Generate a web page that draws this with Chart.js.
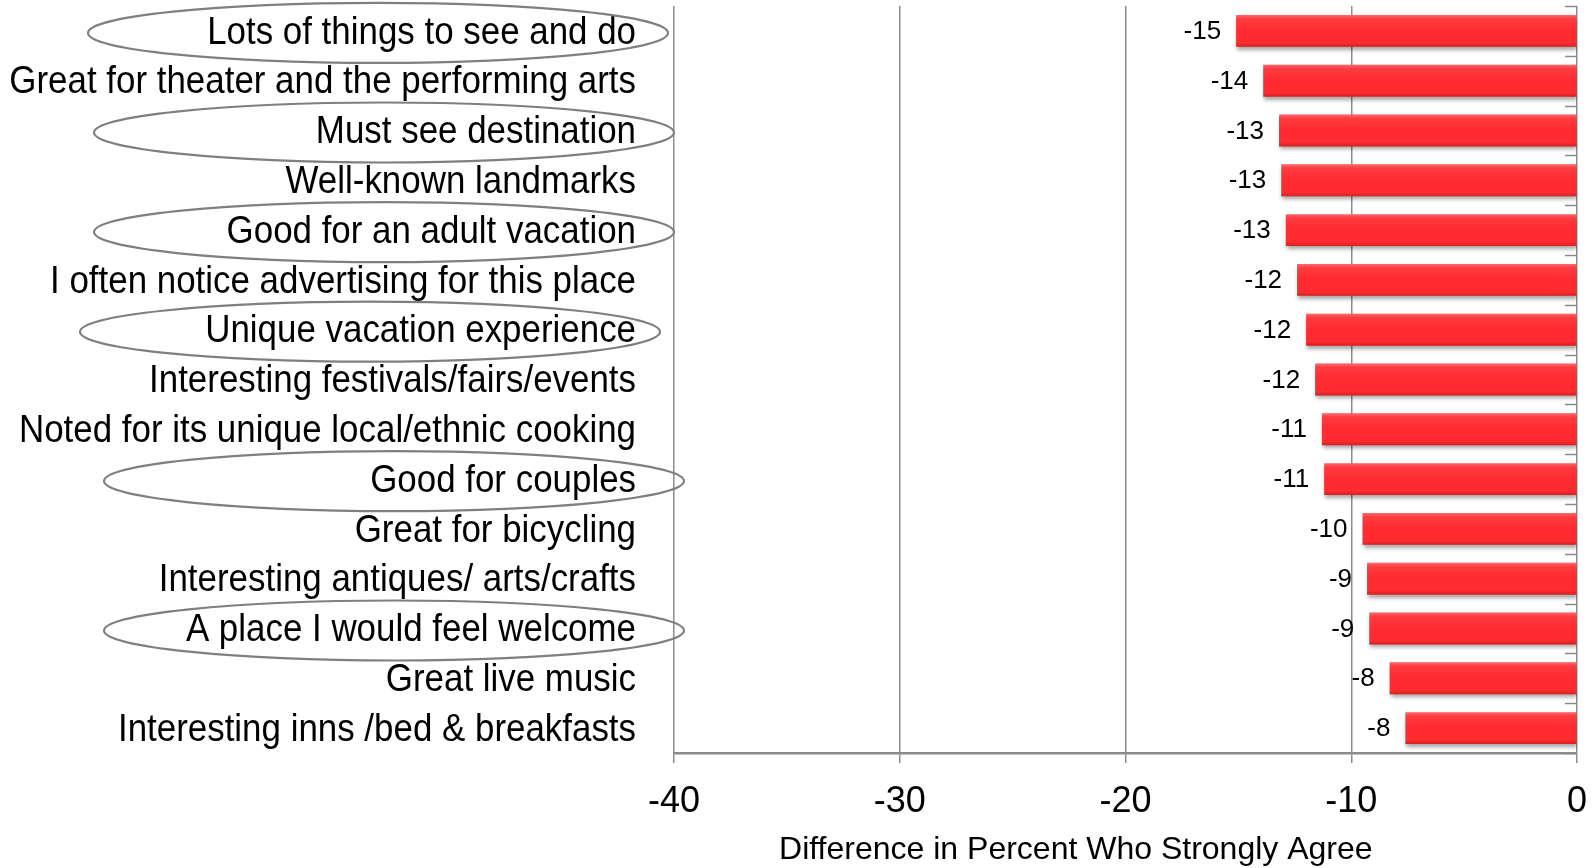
<!DOCTYPE html>
<html>
<head>
<meta charset="utf-8">
<script src="https://cdn.jsdelivr.net/npm/chart.js@4.4.1/dist/chart.umd.min.js"></script>
<style>
  html, body { margin: 0; padding: 0; background: #fff; }
  #wrap { width: 1595px; height: 868px; position: relative; }
</style>
</head>
<body>
<div id="wrap"><canvas id="gapChart"></canvas></div>
<script>
const categories = [
    'Lots of things to see and do',
    'Great for theater and the performing arts',
    'Must see destination',
    'Well-known landmarks',
    'Good for an adult vacation',
    'I often notice advertising for this place',
    'Unique vacation experience',
    'Interesting festivals/fairs/events',
    'Noted for its unique local/ethnic cooking',
    'Good for couples',
    'Great for bicycling',
    'Interesting antiques/ arts/crafts',
    'A place I would feel welcome',
    'Great live music',
    'Interesting inns /bed & breakfasts'
];

const differences = [-15.1, -13.9, -13.2, -13.1, -12.9, -12.4, -12.0, -11.6, -11.3, -11.2, -9.5, -9.3, -9.2, -8.3, -7.6];
const differenceLabels = ['-15', '-14', '-13', '-13', '-13', '-12', '-12', '-12', '-11', '-11', '-10', '-9', '-9', '-8', '-8'];

// rows that are circled in the original slide
const circledRows = [0, 2, 4, 6, 9, 12];

const axisTitle = 'Difference in Percent Who Strongly Agree';

const plainFont = "'Liberation Sans', Arial, sans-serif";

const slideExtras = {
    id: 'slideExtras',
    beforeDatasetsDraw(chart) {
        const ctx = chart.ctx;
        ctx.save();
        ctx.shadowColor = 'rgba(0, 0, 0, 0.35)';
        ctx.shadowBlur = 4;
        ctx.shadowOffsetX = 1;
        ctx.shadowOffsetY = 3;
    },
    afterDatasetsDraw(chart) {
        const ctx = chart.ctx;
        ctx.restore();

        const meta = chart.getDatasetMeta(0);
        meta.data.forEach((bar, i) => {
            const { x, y, base, height } = bar.getProps(['x', 'y', 'base', 'height'], true);
            const left = Math.min(x, base);
            const w = Math.abs(base - x);
            const top = y - height / 2;

            // light bevel on the bar
            const g = ctx.createLinearGradient(0, top, 0, top + height);
            g.addColorStop(0, 'rgba(255,255,255,0.30)');
            g.addColorStop(0.12, 'rgba(255,255,255,0.08)');
            g.addColorStop(0.5, 'rgba(255,255,255,0)');
            g.addColorStop(0.88, 'rgba(0,0,0,0)');
            g.addColorStop(1, 'rgba(110,0,0,0.25)');
            ctx.fillStyle = g;
            ctx.fillRect(left, top, w, height);

            // value label to the left of the bar
            ctx.font = '26px ' + plainFont;
            ctx.fillStyle = '#000';
            ctx.textAlign = 'right';
            ctx.textBaseline = 'middle';
            ctx.fillText(differenceLabels[i], x - 15, y + 1);
        });

        // little inward ticks on the vertical axis at zero
        const area = chart.chartArea;
        const step = (area.bottom - area.top) / categories.length;
        ctx.save();
        ctx.strokeStyle = '#8a8a8a';
        ctx.lineWidth = 1.5;
        for (let i = 0; i <= categories.length; i++) {
            const ty = Math.round(area.top + i * step) + 0.5;
            ctx.beginPath();
            ctx.moveTo(area.right - 12, ty);
            ctx.lineTo(area.right, ty);
            ctx.stroke();
        }
        ctx.restore();
    },
    afterDraw(chart) {
        const ctx = chart.ctx;
        const yScale = chart.scales.y;
        const xScale = chart.scales.x;
        const area = chart.chartArea;

        // category labels, in a narrow face like the slide's Arial Narrow
        ctx.save();
        ctx.font = '39px ' + plainFont;
        ctx.fillStyle = '#000';
        ctx.textAlign = 'right';
        ctx.textBaseline = 'middle';
        const labelRight = area.left - 38;
        categories.forEach((name, i) => {
            const ly = yScale.getPixelForValue(i) + 2;
            ctx.save();
            ctx.translate(labelRight, ly);
            ctx.scale(0.895, 1);
            ctx.fillText(name, 0, 0);
            ctx.restore();
        });
        ctx.restore();

        // axis title, sitting a little left of centre as on the slide
        ctx.save();
        ctx.font = '32px ' + plainFont;
        ctx.fillStyle = '#000';
        ctx.textAlign = 'center';
        ctx.textBaseline = 'middle';
        ctx.fillText(axisTitle, xScale.getPixelForValue(-22.2), 850);
        ctx.restore();

        const centres = { 0: 378, 2: 384, 4: 384, 6: 370, 9: 394, 12: 394 };
        ctx.save();
        ctx.strokeStyle = '#7f7f7f';
        ctx.lineWidth = 2.2;
        circledRows.forEach(row => {
            const cy = yScale.getPixelForValue(row) + 2;
            ctx.beginPath();
            ctx.ellipse(centres[row], cy, 290, 30, 0, 0, Math.PI * 2);
            ctx.stroke();
        });
        ctx.restore();
    }
};

new Chart(document.getElementById('gapChart'), {
    type: 'bar',
    data: {
        labels: categories,
        datasets: [{
            label: 'Difference',
            data: differences,
            backgroundColor: '#ff2b2f',
            borderWidth: 0,
            barPercentage: 0.64,
            categoryPercentage: 1
        }]
    },
    options: {
        indexAxis: 'y',
        responsive: true,
        maintainAspectRatio: false,
        animation: false,
        events: [],
        layout: {
            padding: { top: 6, right: 0, bottom: 0, left: 0 }
        },
        plugins: {
            legend: { display: false },
            tooltip: { enabled: false }
        },
        scales: {
            x: {
                min: -40,
                max: 0,
                ticks: {
                    stepSize: 10,
                    color: '#000',
                    padding: 17,
                    font: { family: plainFont, size: 36 }
                },
                grid: {
                    color: '#8c8c8c',
                    lineWidth: 1.5,
                    tickLength: 10
                },
                border: { color: '#8a8a8a', width: 2.5 },
                afterFit(scale) {
                    scale.height = 115;
                    scale.paddingRight = 18;
                }
            },
            y: {
                ticks: { display: false },
                grid: { display: false, drawTicks: false },
                border: { display: false },
                afterFit(scale) { scale.width = 674; }
            }
        }
    },
    plugins: [slideExtras]
});
</script>
</body>
</html>
